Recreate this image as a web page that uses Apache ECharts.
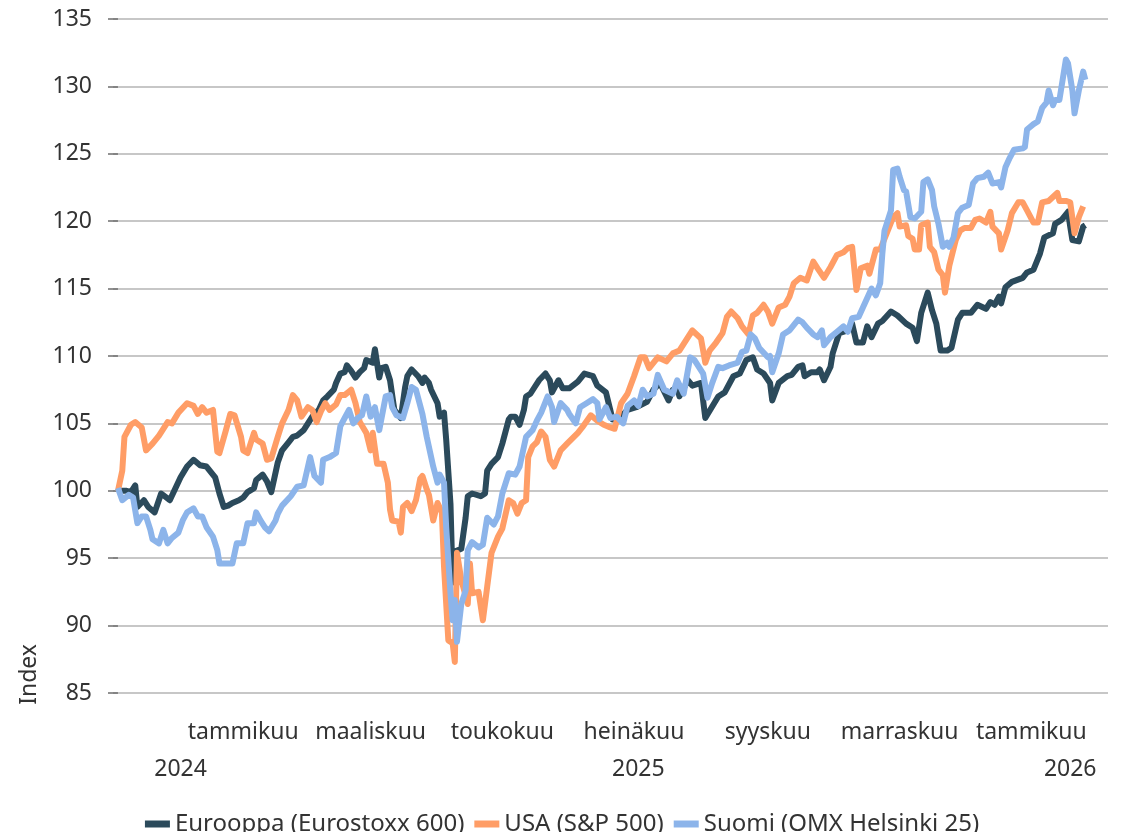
<!DOCTYPE html>
<html><head><meta charset="utf-8">
<script src="https://cdn.jsdelivr.net/npm/echarts@6/dist/echarts.min.js"></script>
<style>html,body{margin:0;padding:0;background:#fff}#c{width:1124px;height:832px}</style>
</head><body><div id="c"></div><script>
// Index = 100 at the start date; x values are day offsets from that date
const startDate = '2024-11-04';
const seriesNames = ['Eurooppa (Eurostoxx 600)', 'USA (S&P 500)', 'Suomi (OMX Helsinki 25)'];
const seriesColors = ['#2b4a5b', '#ff9d66', '#8cb4ea'];

const euroDays = [
  0,4,6,8,9,12,14,17,20,24,
  29,32,35,38,41,45,47,49,51,53,
  56,58,60,63,64,67,69,71,74,76,
  79,81,83,86,88,90,93,95,97,100,
  101,103,105,106,108,110,112,114,115,118,
  119,121,122,124,126,128,131,133,134,136,
  139,141,142,144,145,148,149,151,152,154,
  155,156,159,161,162,164,168,170,171,173,
  176,178,181,182,184,186,188,189,191,193,
  195,198,200,201,204,206,209,213,216,220,
  222,226,228,229,233,236,240,245,248,251,
  255,257,259,260,264,266,270,272,275,278,
  281,285,288,291,294,296,299,302,303,306,
  310,312,315,317,318,321,324,325,327,330,
  331,334,338,340,342,345,347,349,352,354,
  358,361,365,368,370,372,375,377,379,381,
  384,386,389,391,395,398,402,404,406,408,
  409,411,414,419,421,424,427,429,433,434,
  437,440,441,442,445,447,448];
const euroValues = [
  100.0,100.0,99.9,100.4,98.8,99.3,98.8,98.4,99.8,99.3,
  101.0,101.8,102.3,101.9,101.8,101.0,99.8,98.8,98.9,99.1,
  99.3,99.5,99.9,100.2,100.8,101.2,100.7,99.9,102.1,103.0,
  103.6,104.0,104.1,104.5,105.0,105.5,106.0,106.7,107.0,107.5,
  108.0,108.7,108.8,109.3,108.9,108.4,108.8,109.1,109.7,109.5,
  110.5,108.4,109.1,109.2,108.2,106.0,105.4,107.7,108.5,109.0,
  108.5,108.0,108.4,108.0,107.5,106.5,105.5,105.8,103.8,99.0,
  93.2,95.5,95.7,98.0,99.6,99.8,99.6,99.8,101.5,102.0,
  102.5,103.5,105.3,105.5,105.5,104.9,106.0,107.0,107.2,107.7,
  108.2,108.7,108.2,107.3,108.2,107.6,107.6,108.1,108.7,108.5,
  107.8,107.3,106.0,105.3,105.5,106.0,106.2,106.6,107.5,108.0,
  106.7,107.5,107.7,107.0,108.2,107.8,108.0,105.4,106.2,107.0,
  107.3,108.5,108.7,109.7,109.9,109.0,108.7,108.0,106.7,108.0,
  108.5,108.6,109.2,109.3,108.5,108.8,108.8,109.0,108.2,109.2,
  110.2,111.7,111.9,112.4,111.0,111.0,112.2,111.4,112.4,112.6,
  113.3,113.0,112.4,112.1,111.1,113.2,114.7,113.4,112.4,110.4,
  110.4,110.6,112.7,113.2,113.2,113.8,113.5,114.0,113.8,114.4,
  113.9,115.1,115.5,115.8,116.2,116.4,117.6,118.8,119.1,119.8,
  120.1,120.7,119.6,118.6,118.5,119.6,119.7];

const usaDays = [
  0,2,3,6,8,11,13,16,19,23,
  25,28,32,35,37,39,41,44,46,47,
  50,52,54,57,58,60,63,64,67,69,
  71,74,76,79,81,83,85,88,90,92,
  94,96,98,101,103,105,108,110,112,115,
  117,118,120,123,125,126,127,130,131,132,
  134,136,138,140,141,143,144,146,148,150,
  151,153,155,156,157,159,162,163,164,167,
  169,171,173,176,178,181,183,185,187,189,
  190,192,194,196,198,200,202,205,208,213,
  215,219,222,225,228,230,233,236,239,242,
  244,246,250,254,257,260,264,266,270,272,
  274,277,280,282,284,287,289,292,294,296,
  299,301,303,306,309,311,313,316,319,322,
  324,327,330,333,336,338,340,342,344,347,
  348,351,353,356,359,361,362,365,366,368,
  369,371,372,375,376,378,380,382,383,385,
  388,390,392,395,397,399,402,404,405,408,
  409,412,414,417,419,421,424,426,428,431,
  433,435,436,439,441,443,445,447];
const usaValues = [
  100.0,101.5,104.0,104.9,105.1,104.7,103.0,103.5,104.1,105.1,
  105.0,105.8,106.5,106.3,105.7,106.2,105.8,106.0,102.9,102.8,
  104.5,105.7,105.6,104.0,103.0,102.8,104.3,103.8,103.5,102.3,
  102.4,104.0,105.0,106.0,107.1,106.7,105.5,106.2,106.0,105.1,
  105.9,106.5,106.0,106.4,107.1,107.1,107.5,106.5,105.1,104.3,
  103.0,104.3,102.0,102.0,100.6,98.6,97.8,97.7,96.9,98.8,
  99.1,98.5,99.3,100.9,101.1,100.1,99.7,97.8,99.1,98.4,
  94.4,88.9,88.7,87.3,95.4,93.4,91.6,94.6,92.4,92.5,
  90.4,92.9,95.4,96.6,97.2,99.3,99.1,98.3,99.1,99.3,
  102.5,103.3,103.6,104.4,104.0,102.3,101.8,103.0,103.5,104.3,
  104.7,105.6,105.2,104.9,104.7,104.6,106.5,107.2,108.5,109.9,
  109.9,109.1,109.9,109.6,110.2,110.4,111.4,111.9,111.3,109.5,
  110.4,111.0,111.7,112.9,113.3,112.8,112.2,111.6,113.0,113.2,
  113.8,113.3,112.4,113.6,113.8,114.4,115.4,115.8,115.6,117.0,
  116.5,115.8,116.6,117.5,117.7,118.0,118.1,114.9,116.5,116.7,
  116.1,117.9,117.9,119.1,120.3,120.6,119.6,119.7,118.9,118.7,
  117.9,117.9,119.7,119.9,118.1,117.7,116.4,116.0,114.7,116.7,
  118.6,119.3,119.5,119.5,120.1,120.2,119.9,120.7,119.6,119.1,
  117.9,119.3,120.6,121.4,121.4,120.8,119.9,119.9,121.4,121.5,
  121.8,122.1,121.5,121.5,121.4,119.1,120.3,121.1];

const suomiDays = [
  0,2,5,7,9,11,13,15,16,19,
  21,23,25,28,30,32,35,37,39,41,
  44,46,47,50,53,55,58,60,63,64,
  66,68,70,73,74,76,80,83,86,89,
  91,94,95,98,101,103,105,107,109,111,
  113,115,117,119,121,124,126,127,129,132,
  134,136,138,141,143,146,148,149,151,152,
  154,155,156,157,159,161,162,164,167,169,
  171,174,176,178,181,184,186,189,192,194,
  196,199,201,202,205,208,209,212,214,217,
  220,222,223,226,228,231,234,236,239,241,
  243,245,248,250,253,257,259,262,265,267,
  271,273,275,278,280,283,287,289,291,293,
  295,297,301,302,303,306,308,311,315,317,
  319,322,324,326,327,330,333,336,338,340,
  343,345,347,349,351,353,354,355,357,358,
  359,361,362,364,365,367,369,372,373,375,
  377,378,380,382,384,385,387,389,391,394,
  396,398,401,403,405,408,409,411,413,415,
  419,420,421,424,426,428,430,431,433,434,
  436,439,440,442,443,445,447,448];
const suomiValues = [
  100.2,99.3,99.7,99.5,97.6,98.1,98.1,97.1,96.4,96.1,
  97.1,96.1,96.5,96.9,97.8,98.4,98.7,98.1,98.1,97.3,
  96.6,95.6,94.6,94.6,94.6,96.1,96.1,97.6,97.6,98.4,
  97.8,97.3,97.0,97.8,98.3,98.9,99.6,100.3,100.4,102.5,
  101.1,100.6,102.3,102.5,102.8,104.8,105.4,106.0,105.0,105.4,
  105.6,107.0,105.5,106.2,104.5,107.0,107.1,106.2,105.6,105.4,
  106.5,107.7,107.5,105.7,104.0,101.8,100.6,101.2,100.6,97.3,
  92.4,90.4,91.9,88.8,91.6,92.6,95.6,96.2,95.8,96.0,
  98.0,97.5,98.1,99.8,101.3,101.2,101.8,104.0,104.5,105.2,
  105.8,107.0,106.2,105.1,106.5,106.0,105.7,105.0,106.2,106.5,
  106.8,106.5,105.3,106.2,105.4,105.5,105.0,106.3,106.7,106.3,
  107.5,107.0,107.2,108.6,107.5,107.2,108.2,107.2,109.9,109.7,
  108.7,106.9,107.9,109.2,109.1,109.3,109.5,110.3,110.4,111.6,
  111.3,110.6,109.9,110.0,108.8,110.2,111.6,111.9,112.7,112.5,
  112.1,111.6,111.4,111.9,110.8,111.4,111.8,112.2,111.8,112.8,
  112.9,113.6,114.3,115.0,114.5,115.4,117.6,119.3,120.3,120.8,
  123.8,123.9,123.3,122.3,122.2,120.3,120.2,120.7,122.9,123.1,
  122.3,121.1,119.8,118.1,118.4,118.1,118.8,120.6,121.0,121.2,
  122.8,123.2,123.3,123.6,122.8,122.9,122.5,124.0,124.7,125.3,
  125.4,125.5,126.8,127.2,127.4,128.4,128.8,129.7,128.6,129.0,
  129.0,132.0,131.7,129.7,128.0,129.7,131.1,130.5];

const monthTicks = ['2025-01-01','2025-03-01','2025-05-01','2025-07-01','2025-09-01','2025-11-01','2026-01-01'];
const monthNames = ['tammikuu','helmikuu','maaliskuu','huhtikuu','toukokuu','kesäkuu','heinäkuu','elokuu','syyskuu','lokakuu','marraskuu','joulukuu'];
const yearTicks = ['2024-12-03','2025-07-03','2026-01-19'];
const yMin = 85, yMax = 135, yStep = 5;
const yAxisName = 'Index';

const DAY = 86400000;
const base = Date.parse(startDate);
const dayOf = s => (Date.parse(s) - base) / DAY;
const dateOf = d => new Date(base + Math.round(d) * DAY);
const toPts = (days, vals) => days.map((d, i) => [d, vals[i]]);
const allSeries = [[euroDays, euroValues], [usaDays, usaValues], [suomiDays, suomiValues]];

const FONT = '"Noto Sans", sans-serif';
const FS = 23;
const TXT = '#333333';
const xMin = -2.3, xMax = 458.5;

const chart = echarts.init(document.getElementById('c'), null, {renderer: 'canvas'});
chart.setOption({
  animation: false,
  backgroundColor: '#ffffff',
  textStyle: {fontFamily: FONT},
  grid: {left: 113, right: 16, top: 19, bottom: 139, containLabel: false, outerBoundsMode: 'none'},
  xAxis: [{
    type: 'value', min: xMin, max: xMax,
    axisLine: {show: false}, axisTick: {show: false}, splitLine: {show: false},
    axisLabel: {
      customValues: monthTicks.map(dayOf),
      formatter: v => monthNames[dateOf(v).getUTCMonth()],
      margin: 28, fontSize: FS, color: TXT, fontFamily: FONT, hideOverlap: false
    }
  }, {
    type: 'value', min: xMin, max: xMax, position: 'bottom',
    axisLine: {show: false}, axisTick: {show: false}, splitLine: {show: false},
    axisLabel: {
      customValues: yearTicks.map(dayOf),
      formatter: v => String(dateOf(v).getUTCFullYear()),
      margin: 65, fontSize: FS, color: TXT, fontFamily: FONT, hideOverlap: false
    }
  }],
  yAxis: {
    type: 'value', min: yMin, max: yMax, interval: yStep,
    axisLine: {show: false},
    axisTick: {show: true, length: 10, lineStyle: {color: '#6e6e6e', width: 1.5}},
    splitLine: {show: true, lineStyle: {color: '#b4b4b4', width: 1.5}},
    axisLabel: {margin: 21, fontSize: FS, color: TXT, fontFamily: FONT}
  },
  legend: {
    data: seriesNames, left: 'center', top: 807, icon: 'rect',
    itemWidth: 25, itemHeight: 7, itemGap: 10,
    textStyle: {fontSize: 24, color: TXT, fontFamily: FONT}
  },
  graphic: [{
    type: 'text', left: 18, top: 644, rotation: Math.PI / 2,
    style: {text: yAxisName, font: FS + 'px ' + FONT, fill: TXT}
  }],
  series: allSeries.map((s, i) => ({
    name: seriesNames[i], type: 'line', xAxisIndex: 0,
    data: toPts(s[0], s[1]),
    showSymbol: false, symbol: 'none',
    lineStyle: {width: 6, color: seriesColors[i], join: 'round'},
    itemStyle: {color: seriesColors[i]},
    emphasis: {disabled: true}
  }))
});
</script></body></html>
